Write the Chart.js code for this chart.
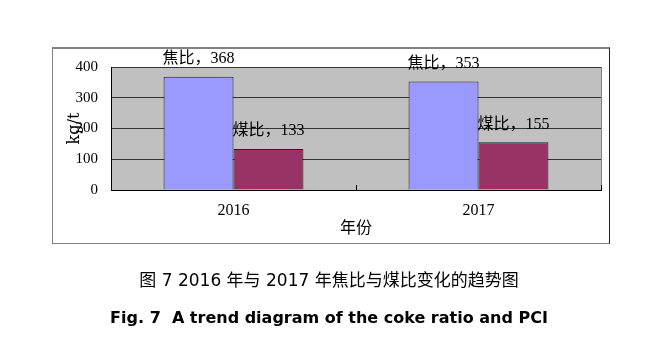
<!DOCTYPE html>
<html>
<head>
<meta charset="utf-8">
<script src="https://cdn.jsdelivr.net/npm/chart.js@4"></script>
<style>
  body { margin:0; background:#fff; }
  #wrap { position:relative; width:658px; height:347px; }
  #frame { position:absolute; left:52px; top:47px; width:556px; height:194px;
           border:1px solid #808080; border-right-color:#222; border-top-width:2px; }
  canvas { position:absolute; left:0; top:0; }
  .cap { position:absolute; left:0; width:658px; text-align:center; color:#000; }
  #cap-cn { top:266px; font:17px "DejaVu Sans","Noto Sans CJK SC",sans-serif; }
  #cap-en { top:308px; font:bold 16px "DejaVu Sans",sans-serif; }
</style>
</head>
<body>
<div id="wrap">
  <div id="frame"></div>
  <canvas id="chart" width="658" height="347"></canvas>
  <div class="cap" id="cap-cn">图 7 2016 年与 2017 年焦比与煤比变化的趋势图</div>
  <div class="cap" id="cap-en">Fig. 7&nbsp; A trend diagram of the coke ratio and PCI</div>
</div>
<script>
// years on the x axis, two series per year
const years = ['2016', '2017'];
const cokeRatio = [368, 353];
const coalRatio = [133, 155];
const seriesNames = ['焦比', '煤比'];
const yTicks = [0, 100, 200, 300, 400];

const serif = "'Liberation Serif','Noto Sans CJK SC',serif";

// grey plot background with a thin outline
const plotBg = {
  id: 'plotBg',
  beforeDraw(chart) {
    const { ctx, chartArea: a } = chart;
    ctx.save();
    ctx.fillStyle = '#c0c0c0';
    ctx.fillRect(a.left, a.top, a.right - a.left, a.bottom - a.top);
    ctx.strokeStyle = '#808080';
    ctx.lineWidth = 1;
    ctx.strokeRect(a.left + 0.5, a.top + 0.5, a.right - a.left, a.bottom - a.top);
    ctx.restore();
  }
};

// small upward ticks between categories and at the right end
const catTicks = {
  id: 'catTicks',
  afterDraw(chart) {
    const { ctx, chartArea: a } = chart;
    const x = chart.scales.x;
    const mid = (x.getPixelForTick(0) + x.getPixelForTick(1)) / 2;
    ctx.save();
    ctx.strokeStyle = '#000';
    ctx.lineWidth = 1;
    [mid, a.right].forEach(px => {
      ctx.beginPath();
      ctx.moveTo(Math.round(px) + 0.5, a.bottom);
      ctx.lineTo(Math.round(px) + 0.5, a.bottom - 5);
      ctx.stroke();
    });
    ctx.restore();
  }
};

// "name，value" above each bar
const barLabels = {
  id: 'barLabels',
  afterDatasetsDraw(chart) {
    const { ctx } = chart;
    ctx.save();
    ctx.font = '16px ' + serif;
    ctx.fillStyle = '#000';
    ctx.textAlign = 'center';
    ctx.textBaseline = 'middle';
    chart.data.datasets.forEach((ds, di) => {
      chart.getDatasetMeta(di).data.forEach((bar, i) => {
        ctx.fillText(seriesNames[di] + '，' + ds.data[i], bar.x, bar.y - 18);
      });
    });
    ctx.restore();
  }
};

new Chart(document.getElementById('chart'), {
  type: 'bar',
  data: {
    labels: years,
    datasets: [
      { label: seriesNames[0], data: cokeRatio, backgroundColor: '#9999ff', borderColor: '#222', borderWidth: 1 },
      { label: seriesNames[1], data: coalRatio, backgroundColor: '#993366', borderColor: '#222', borderWidth: 1 }
    ]
  },
  options: {
    responsive: false,
    animation: false,
    categoryPercentage: 0.571,
    barPercentage: 1,
    layout: { padding: { left: 50, right: 57, top: 67, bottom: 105 } },
    plugins: { legend: { display: false }, tooltip: { enabled: false } },
    scales: {
      x: {
        grid: { display: false, drawTicks: false },
        border: { color: '#000', width: 1 },
        ticks: { color: '#000', font: { family: serif, size: 16 }, padding: 11 },
        title: { display: true, text: '年份', color: '#000',
                 font: { family: serif, size: 16 }, padding: { top: 0, bottom: 4 } },
        afterFit(scale) { scale.height = 52; }
      },
      y: {
        min: 0, max: 400,
        afterBuildTicks(scale) { scale.ticks = yTicks.map(v => ({ value: v })); },
        grid: { color: '#333', lineWidth: 1, drawTicks: false },
        border: { color: '#000', width: 1 },
        ticks: { color: '#000', font: { family: serif, size: 15 }, padding: 13 },
        title: { display: true, text: 'kg/t', color: '#000',
                 font: { family: "'DejaVu Serif',serif", size: 16 }, padding: { top: 15, bottom: 0 } },
        afterFit(scale) { scale.width = 61; }
      }
    }
  },
  plugins: [plotBg, catTicks, barLabels]
});
</script>
</body>
</html>
